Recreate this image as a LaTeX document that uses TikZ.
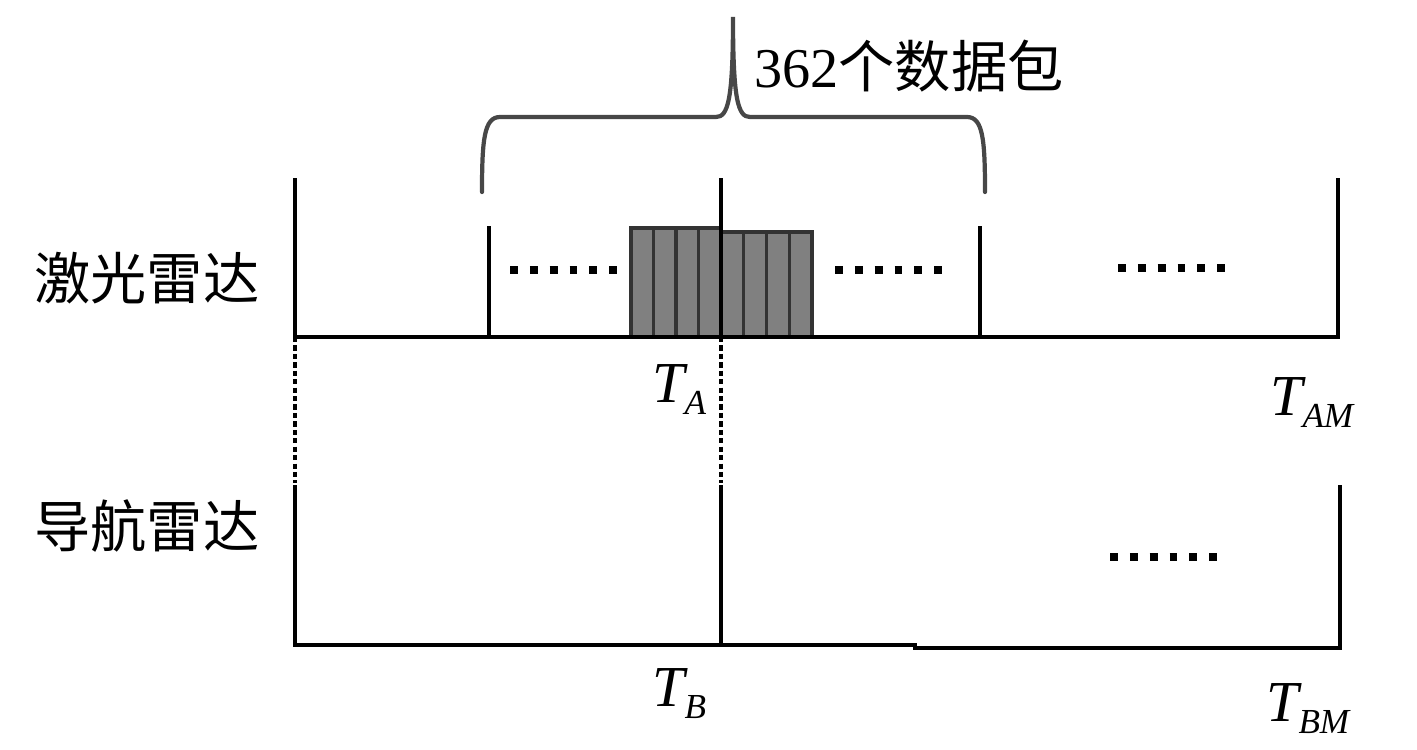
\documentclass[tikz,border=0pt]{standalone}
\usepackage{fontspec}
\setmainfont{Liberation Serif}
\newfontfamily\cjk{Noto Sans CJK SC}
\usetikzlibrary{positioning}

% time label with subscript
\newcommand{\tlab}[1]{\textit{T}\kern-2pt\raisebox{-7pt}{\fontsize{20}{22}\selectfont\textit{#1}}}

\begin{document}
\begin{tikzpicture}[
    x=0.02cm, y=-0.02cm,
    axis/.style={line width=2pt, line cap=rect},
    link/.style={line width=1.9pt, dash pattern=on 3pt off 1.8pt},
    pkt/.style={draw=black!80, fill=black!50, line width=1.9pt},
    dots/.style={line width=4.5pt, dash pattern=on 4.5pt off 6.8pt},
    brace/.style={line width=2.4pt, black!72, line cap=round},
    radar/.style={font=\cjk\fontsize{32}{38}\selectfont},
    tl/.style={font=\fontsize{33}{40}\selectfont, anchor=base west, inner sep=0pt},
]
    \useasboundingbox (0,0) rectangle (1417,750);

    %==================== key points ====================
    \coordinate (a0) at (295,337);
    \coordinate (aM) at (1338,337);
    \coordinate (aT) at (721,337);
    \coordinate (b0) at (295,645);
    \coordinate (bT) at (721,645);
    \coordinate (bS) at (915,645);
    \coordinate (bM) at (1340,648);

    %==================== data packets ====================
    \foreach \i in {0,...,3}
        \draw[pkt] (631+22.5*\i,228) rectangle (631+22.5*\i+22.5,337);
    \foreach \i in {0,...,3}
        \draw[pkt] (721+22.75*\i,232) rectangle (721+22.75*\i+22.75,337);

    %==================== lidar row ====================
    \draw[axis] (a0) -- (aM);
    \draw[axis] (295,180) -- (a0);
    \draw[axis] (1338,180) -- (aM);
    \draw[axis] (489,228) -- (489,337);
    \draw[axis] (980,228) -- (980,337);
    \draw[axis] (721,180) -- (aT);
    \draw[dots] (510,270) -- (622,270);
    \draw[dots] (835,270) -- (947,270);
    \draw[dots] (1118,268) -- (1230,268);

    %==================== links between rows ====================
    \draw[link] (a0) -- (295,483);
    \draw[link] (aT) -- (721,483);

    %==================== navigation row ====================
    \draw[axis] (295,487) -- (b0) -- (bS);
    \draw[axis] (bS |- bM) -- (bM) -- (1340,487);
    \draw[axis] (721,487) -- (bT);
    \draw[dots] (1110,557) -- (1222,557);

    %==================== brace ====================
    \draw[brace] (482,192) .. controls (482,140) and (484,117) .. (500,117)
        -- (716,117) .. controls (728,117) and (733,100) .. (733,17)
        .. controls (733,100) and (738,117) .. (750,117)
        -- (967,117) .. controls (983,117) and (985,140) .. (985,192);
    \node[font=\fontsize{32}{38}\selectfont, anchor=west, inner sep=0pt] (count)
        at (754,66) {362{\cjk 个数据包}};

    %==================== labels ====================
    \node[radar] (lidar) at (147,278) {激光雷达};
    \node[radar] (nav) at (147,526) {导航雷达};
    \node[tl] (ta) at (652,402) {\tlab{A}};
    \node[tl] (tam) at (1270,415) {\tlab{AM}};
    \node[tl] (tb) at (652,706) {\tlab{B}};
    \node[tl] (tbm) at (1266,721) {\tlab{BM}};
\end{tikzpicture}
\end{document}
